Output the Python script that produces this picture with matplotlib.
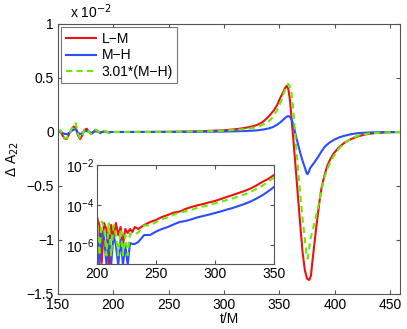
import numpy as np
import matplotlib
matplotlib.use("Agg")
import matplotlib.pyplot as plt

plt.rcParams['font.family'] = ['Liberation Sans', 'DejaVu Sans']

# ---------------- main panel data (units of 1e-2) ----------------
t_red = [150, 152, 154, 156, 158, 160, 162, 164, 166, 168, 170, 172, 174, 176, 178,
         180, 182, 184, 186, 188, 190, 192, 194, 196, 198, 200, 210, 230, 250, 270,
         285, 300, 310, 318, 325, 330, 335, 340, 345, 348, 350.5, 353, 355, 356.5,
         358, 359.5, 361, 363, 365, 367, 369, 371, 373, 375, 377, 378.5, 380, 382,
         384, 386, 388, 390.5, 393, 396, 399, 403, 408, 414, 420, 428, 436, 446, 459]
red = [0.0, 0.01, -0.03, -0.06, -0.065, -0.02, 0.02, 0.05, 0.04, -0.03, -0.065, -0.03, 0.02, 0.03, 0.0,
       -0.02, 0.0, 0.02, 0.01, -0.01, 0.0, 0.01, 0.0, -0.005, 0.0, 0.0, 0.0, 0.0005, 0.0018, 0.0047,
       0.0095, 0.016, 0.025, 0.036, 0.05, 0.066, 0.093, 0.14, 0.2, 0.25, 0.31, 0.36, 0.405, 0.426,
       0.40, 0.30, 0.12, -0.12, -0.37, -0.63, -0.88, -1.12, -1.28, -1.36, -1.37, -1.33, -1.18, -1.0,
       -0.82, -0.66, -0.52, -0.41, -0.32, -0.25, -0.20, -0.15, -0.105, -0.07, -0.043, -0.022, -0.01, -0.004, 0.0]

t_blue = [150, 152, 154, 156, 158, 160, 162, 164, 166, 168, 170, 172, 174, 176, 178,
          180, 182, 184, 186, 188, 190, 192, 194, 196, 198, 200, 210, 230, 250, 270,
          285, 300, 320, 330, 336, 340, 344, 348, 351, 353.5, 356, 358, 359.5, 361,
          362.5, 364, 365.5, 367, 369, 371, 373, 374.5, 375.5, 376.5, 378, 381, 385,
          388, 391, 395, 399, 404, 408, 414, 420, 430, 440, 459]
blue = [0.0, 0.006, -0.008, -0.018, -0.02, -0.008, 0.008, 0.02, 0.027, -0.006, -0.02, -0.01, 0.008, 0.01, 0.0,
        -0.007, 0.0, 0.007, 0.003, -0.003, 0.0, 0.003, 0.0, -0.002, 0.0, 0.0, 0.0, 0.0001, 0.0005, 0.0014,
        0.0024, 0.004, 0.009, 0.015, 0.024, 0.032, 0.045, 0.068, 0.09, 0.115, 0.138, 0.148, 0.14, 0.117,
        0.07, 0.003, -0.06, -0.12, -0.20, -0.27, -0.33, -0.38, -0.39, -0.37, -0.33, -0.29, -0.23,
        -0.18, -0.136, -0.10, -0.074, -0.05, -0.037, -0.022, -0.012, -0.005, -0.002, 0.0]

scale_factor = 3.01  # legend: 3.01*(M-H)

# ---------------- inset data (log10 |dA|) ----------------
t_in = [200, 202, 204, 206, 208, 210, 212, 214, 216, 218, 220, 222, 224, 226, 228, 230,
        232, 235, 240, 245, 250, 255, 260, 265, 270, 275, 280, 285, 290, 295, 300,
        305, 310, 315, 320, 325, 330, 335, 340, 345, 350]
red_log = [-4.6, -5.0, -6.9, -4.9, -5.2, -7.0, -5.0, -5.6, -4.9, -5.5, -5.1, -6.0, -5.2, -5.4, -5.2, -5.35,
           -5.1, -5.2, -5.0, -4.85, -4.75, -4.6, -4.5, -4.38, -4.33, -4.2, -4.1, -4.02, -3.95, -3.87, -3.8,
           -3.7, -3.6, -3.5, -3.4, -3.3, -3.18, -3.03, -2.85, -2.7, -2.5]
blue_log = [-5.0, -7.0, -5.3, -5.6, -7.0, -5.4, -7.0, -5.5, -6.0, -7.0, -5.7, -7.0, -6.0, -7.0, -5.9, -5.95,
            -5.95, -5.85, -5.5, -5.5, -5.33, -5.2, -5.1, -4.97, -4.85, -4.8, -4.72, -4.62, -4.55, -4.48, -4.4,
            -4.32, -4.23, -4.15, -4.05, -3.95, -3.83, -3.68, -3.52, -3.32, -3.1]

c_red = '#ee1111'
c_blue = '#2b4cff'
c_green = '#66ee00'
edge = '#555555'

fig = plt.figure(figsize=(4.07, 3.29), dpi=100)
ax = fig.add_axes([0.1425, 0.1064, 0.8405, 0.8207])

ax.plot(t_red, red, color=c_red, lw=1.5, label='L\u2212M')
ax.plot(t_blue, blue, color=c_blue, lw=1.5, label='M\u2212H')
ax.plot(t_blue, scale_factor * np.array(blue), color=c_green, lw=1.5, ls=(0, (3, 2)),
        label='3.01*(M\u2212H)')

ax.set_xlim(150, 459)
ax.set_ylim(-1.5, 1)
ax.set_xticks([150, 200, 250, 300, 350, 400, 450])
ax.set_yticks([-1.5, -1, -0.5, 0, 0.5, 1])
ax.set_yticklabels(['\u22121.5', '\u22121', '\u22120.5', '0', '0.5', '1'])
ax.tick_params(direction='in', top=True, right=True, labelsize=10, length=3,
               color=edge)
ax.tick_params(axis='x', pad=3)
ax.tick_params(axis='y', pad=3)
for s in ax.spines.values():
    s.set_color(edge)
    s.set_linewidth(0.8)
ax.set_xlabel('t/M', fontsize=10, labelpad=0)
ax.set_ylabel('\u0394 A$_{22}$', fontsize=10, labelpad=4)
ax.text(0.035, 1.012, 'x 10$^{\u22122}$', transform=ax.transAxes, fontsize=10,
        ha='left', va='bottom')

leg = ax.legend(loc='upper left', fontsize=10, frameon=True, fancybox=False,
                borderaxespad=0.25, handlelength=2.2, handletextpad=0.4,
                labelspacing=0.2, borderpad=0.3)
leg.get_frame().set_edgecolor(edge)
leg.get_frame().set_linewidth(0.8)

# inset
ax2 = fig.add_axes([0.2383, 0.1976, 0.4349, 0.3009])
ti = np.array(t_in)
ax2.semilogy(ti, 10 ** np.array(red_log), color=c_red, lw=1.5)
ax2.semilogy(ti, 10 ** np.array(blue_log), color=c_blue, lw=1.5)
ax2.semilogy(ti, scale_factor * 10 ** np.array(blue_log), color=c_green, lw=1.5,
             ls=(0, (3, 2)))
ax2.set_xlim(200, 350)
ax2.set_ylim(10 ** -6.95, 1e-2)
ax2.set_xticks([200, 250, 300, 350])
ax2.set_yticks([1e-6, 1e-4, 1e-2])
ax2.yaxis.set_minor_locator(matplotlib.ticker.NullLocator())
ax2.tick_params(direction='in', top=True, right=True, labelsize=10, length=3,
                color=edge, pad=2)
for s in ax2.spines.values():
    s.set_color(edge)
    s.set_linewidth(0.8)

fig.savefig('out.png', dpi=100)
